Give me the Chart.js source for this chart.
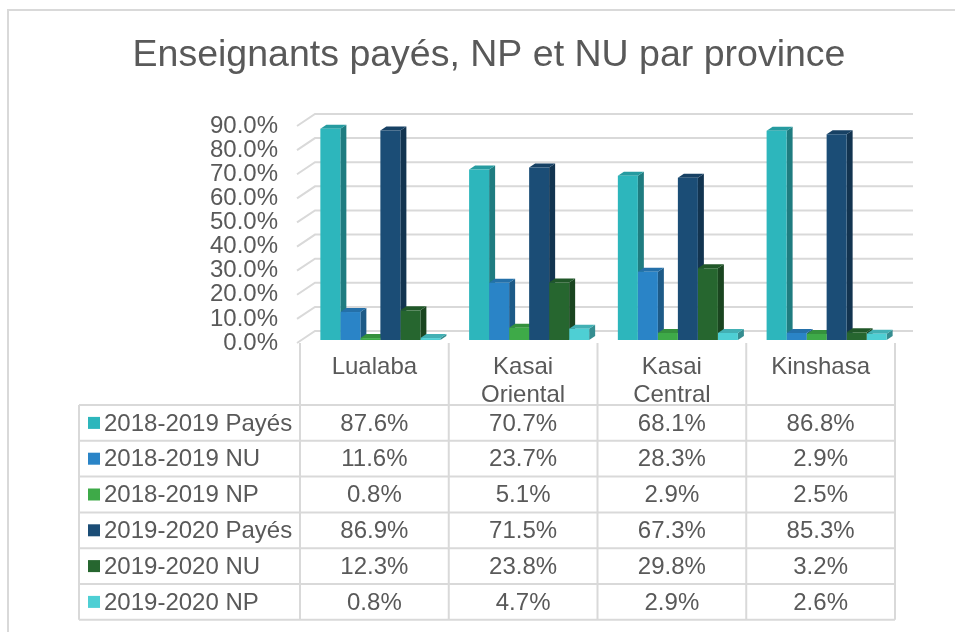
<!DOCTYPE html>
<html>
<head>
<meta charset="utf-8">
<script src="https://cdn.jsdelivr.net/npm/chart.js@4.4.1/dist/chart.umd.min.js"></script>
<style>
  html, body { margin: 0; padding: 0; background: #fff; }
  canvas { display: block; }
</style>
</head>
<body>
<canvas id="chart" width="955" height="632"></canvas>
<script>
// data
const categories = [['Lualaba'], ['Kasai', 'Oriental'], ['Kasai', 'Central'], ['Kinshasa']];
const seriesLabels = ['2018-2019 Payés', '2018-2019 NU', '2018-2019 NP', '2019-2020 Payés', '2019-2020 NU', '2019-2020 NP'];
const payes1819 = [87.6, 70.7, 68.1, 86.8];
const nu1819 = [11.6, 23.7, 28.3, 2.9];
const np1819 = [0.8, 5.1, 2.9, 2.5];
const payes1920 = [86.9, 71.5, 67.3, 85.3];
const nu1920 = [12.3, 23.8, 29.8, 3.2];
const np1920 = [0.8, 4.7, 2.9, 2.6];
const yTicks = [0, 10, 20, 30, 40, 50, 60, 70, 80, 90];
const seriesColors = ['#2DB6BC', '#2A84C7', '#3EAA48', '#1B4D76', '#26662F', '#4ECFD4'];

const seriesValues = [payes1819, nu1819, np1819, payes1920, nu1920, np1920];
const FONT = '"Liberation Sans", Arial, sans-serif';
const TEXT = '#595959';
const LINE = '#D9D9D9';

function shade(hex, f) {
    var n = parseInt(hex.slice(1), 16);
    var r = Math.round(((n >> 16) & 255) * f);
    var g = Math.round(((n >> 8) & 255) * f);
    var b = Math.round((n & 255) * f);
    return 'rgb(' + r + ',' + g + ',' + b + ')';
}

// 3d look: bar depth and wall depth
var DX = 6, DY = 4;
var WX = 9, WY = 9;

var fakeDepth = {
    id: 'fakeDepth',
    beforeDatasetsDraw: function (chart) {
        var ctx = chart.ctx;
        var area = chart.chartArea;
        var y = chart.scales.y;
        ctx.save();
        // back wall grid + left wall diagonals
        ctx.strokeStyle = LINE;
        ctx.lineWidth = 2;
        yTicks.forEach(function (t) {
            var py = y.getPixelForValue(t);
            ctx.beginPath();
            ctx.moveTo(area.left - 9, py + 3);
            ctx.lineTo(area.left + WX, py - WY);
            ctx.lineTo(area.right + 12, py - WY);
            ctx.stroke();
        });
        // side and top faces, left to right inside each category
        for (var c = 0; c < categories.length; c++) {
            for (var d = 0; d < seriesValues.length; d++) {
                var bar = chart.getDatasetMeta(d).data[c];
                var l = bar.x - bar.width / 2, r = bar.x + bar.width / 2;
                var top = bar.y, base = bar.base;
                ctx.fillStyle = shade(seriesColors[d], 0.68);
                ctx.beginPath();
                ctx.moveTo(r, top);
                ctx.lineTo(r + DX, top - DY);
                ctx.lineTo(r + DX, base - DY);
                ctx.lineTo(r, base);
                ctx.closePath();
                ctx.fill();
                ctx.fillStyle = shade(seriesColors[d], 0.85);
                ctx.beginPath();
                ctx.moveTo(l, top);
                ctx.lineTo(l + DX, top - DY);
                ctx.lineTo(r + DX, top - DY);
                ctx.lineTo(r, top);
                ctx.closePath();
                ctx.fill();
            }
        }
        ctx.restore();
    },
    afterDraw: function (chart) {
        var ctx = chart.ctx;
        var area = chart.chartArea;
        var x = chart.scales.x;
        var y = chart.scales.y;
        ctx.save();

        // outer frame
        ctx.strokeStyle = LINE;
        ctx.lineWidth = 2;
        ctx.strokeRect(8, 10, 980, 660);

        // title
        ctx.fillStyle = TEXT;
        ctx.textAlign = 'center';
        ctx.textBaseline = 'middle';
        ctx.font = '37.5px ' + FONT;
        ctx.fillText('Enseignants payés, NP et NU par province', 489, 56);

        // y tick labels
        ctx.font = '24px ' + FONT;
        ctx.textAlign = 'right';
        yTicks.forEach(function (t) {
            ctx.fillText(t.toFixed(1) + '%', 278, y.getPixelForValue(t) + 3);
        });

        // data table under the plot
        var catW = x.getPixelForValue(1) - x.getPixelForValue(0);
        var bounds = [];
        for (var i = 0; i <= categories.length; i++) {
            bounds.push(x.getPixelForValue(0) - catW / 2 - 6 + i * catW);
        }
        var headTop = area.bottom + 3;
        var rowTop = 405, rowH = 35.8;
        var left = 79;
        var bottom = rowTop + rowH * seriesLabels.length;

        ctx.strokeStyle = LINE;
        ctx.lineWidth = 2;
        ctx.beginPath();
        for (var r = 0; r <= seriesLabels.length; r++) {
            ctx.moveTo(left, rowTop + r * rowH);
            ctx.lineTo(bounds[bounds.length - 1], rowTop + r * rowH);
        }
        ctx.moveTo(left, rowTop);
        ctx.lineTo(left, bottom);
        bounds.forEach(function (bx) {
            ctx.moveTo(bx, headTop);
            ctx.lineTo(bx, bottom);
        });
        ctx.stroke();

        ctx.fillStyle = TEXT;
        ctx.textAlign = 'center';
        categories.forEach(function (lines, c) {
            var cx = (bounds[c] + bounds[c + 1]) / 2;
            lines.forEach(function (s, k) {
                ctx.fillText(s, cx, 367 + k * 28);
            });
        });

        seriesLabels.forEach(function (name, s) {
            var cy = rowTop + s * rowH + rowH / 2;
            ctx.fillStyle = seriesColors[s];
            ctx.fillRect(88, cy - 6, 12, 12);
            ctx.fillStyle = TEXT;
            ctx.textAlign = 'left';
            ctx.fillText(name, 104, cy + 1);
            ctx.textAlign = 'center';
            seriesValues[s].forEach(function (v, c) {
                ctx.fillText(v.toFixed(1) + '%', (bounds[c] + bounds[c + 1]) / 2, cy + 1);
            });
        });
        ctx.restore();
    }
};

var ctx = document.getElementById('chart');
var chart = new Chart(ctx, {
    type: 'bar',
    data: {
        labels: categories,
        datasets: seriesLabels.map(function (name, i) {
            return {
                label: name,
                data: seriesValues[i],
                backgroundColor: seriesColors[i],
                borderWidth: 0,
                categoryPercentage: 0.807,
                barPercentage: 1.0
            };
        })
    },
    options: {
        responsive: false,
        animation: false,
        layout: { padding: { left: 306, right: 54, top: 123, bottom: 292 } },
        plugins: {
            legend: { display: false },
            title: { display: false },
            tooltip: { enabled: false }
        },
        scales: {
            x: { display: false },
            y: { display: false, min: 0, max: 90 }
        }
    },
    plugins: [fakeDepth]
});
</script>
</body>
</html>
